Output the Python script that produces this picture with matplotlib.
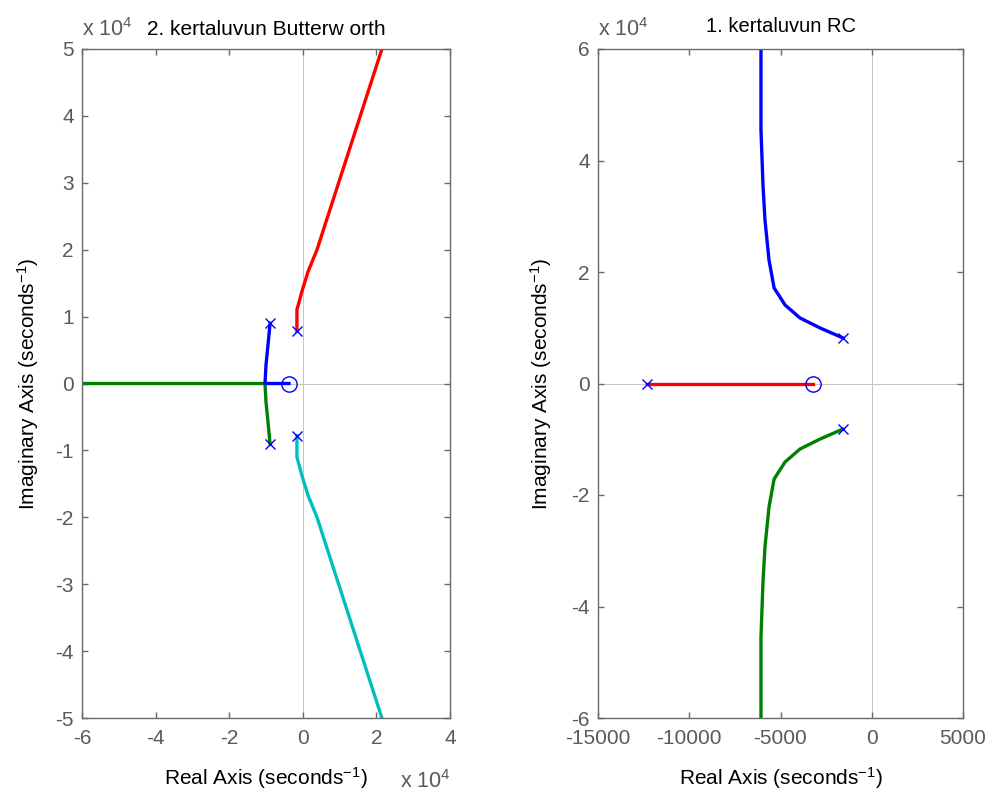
import matplotlib
matplotlib.use("Agg")
import matplotlib.pyplot as plt

plt.rcParams['font.family'] = ['Liberation Sans', 'DejaVu Sans']
plt.rcParams['mathtext.default'] = 'regular'

# ---------------- Left plot: 2nd order Butterworth (units: 1/s) ----------------
bw_poles_re = [-8900, -8900, -1600, -1600]
bw_poles_im = [9000, -9000, 7800, -7800]
bw_zero_re = [-3750]
bw_zero_im = [0]

bw_blue_re = [-8900, -9460, -10000, -10270, -3750]
bw_blue_im = [9000, 5750, 2770, 0, 0]
bw_green_re = [-8900, -9460, -10000, -10270, -60000]
bw_green_im = [-9000, -5750, -2770, 0, 0]
bw_red_re = [-1600, -1600, -220, 1410, 3860, 21500]
bw_red_im = [7800, 11000, 13800, 16700, 20000, 50000]
bw_cyan_re = [-1600, -1600, -220, 1410, 3860, 21500]
bw_cyan_im = [-7800, -11000, -13800, -16700, -20000, -50000]

# ---------------- Right plot: 1st order RC ----------------
rc_poles_re = [-1600, -1600, -12300]
rc_poles_im = [8200, -8200, 0]
rc_zero_re = [-3200]
rc_zero_im = [0]

rc_blue_re = [-1600, -2830, -3930, -4750, -5350, -5630, -5850, -5960, -6070, -6070]
rc_blue_im = [8200, 9960, 11750, 14080, 17130, 22150, 29300, 35600, 45500, 60000]
rc_green_re = rc_blue_re
rc_green_im = [-v for v in rc_blue_im]
rc_red_re = [-12300, -3200]
rc_red_im = [0, 0]

left_xticks = [-60000, -40000, -20000, 0, 20000, 40000]
left_yticks = [-50000, -40000, -30000, -20000, -10000, 0, 10000, 20000, 30000, 40000, 50000]
right_xticks = [-15000, -10000, -5000, 0, 5000]
right_yticks = [-60000, -40000, -20000, 0, 20000, 40000, 60000]

GRAY = '#6a6a6a'
TICKC = '#5a5a5a'
LW = 2.4

fig = plt.figure(figsize=(9.93, 7.96), dpi=100)
axL = fig.add_axes([82/993, 78/796, 368/993, 669/796])
axR = fig.add_axes([598/993, 78/796, 365/993, 669/796])


def style(ax):
    for s in ax.spines.values():
        s.set_color(GRAY)
        s.set_linewidth(1.0)
    ax.tick_params(direction='in', length=4, width=1.0, color=GRAY,
                   labelcolor=TICKC, labelsize=15, top=True, right=True)
    ax.tick_params(axis='x', pad=8)
    ax.tick_params(axis='y', pad=6)
    ax.axhline(0, color='#c4c4c4', lw=0.7, zorder=0)
    ax.axvline(0, color='#c4c4c4', lw=0.7, zorder=0)


LABEL = "Real Axis (seconds$^{-1}$)"
YLABEL = "Imaginary Axis (seconds$^{-1}$)"

# Left
style(axL)
axL.plot(bw_red_re, bw_red_im, color='#ff0000', lw=LW)
axL.plot(bw_cyan_re, bw_cyan_im, color='#00bfbf', lw=LW)
axL.plot(bw_green_re, bw_green_im, color='#008000', lw=LW)
axL.plot(bw_blue_re, bw_blue_im, color='#0000ff', lw=LW)
axL.plot(bw_poles_re, bw_poles_im, 'x', color='#0000ff', ms=7, mew=1.0)
axL.plot(bw_zero_re, bw_zero_im, 'o', mfc='none', mec='#0000ff', ms=11, mew=1.0)
axL.set_xlim(-60000, 40000)
axL.set_ylim(-50000, 50000)
axL.set_xticks(left_xticks)
axL.set_xticklabels([f"{v/1e4:g}" for v in left_xticks])
axL.set_yticks(left_yticks)
axL.set_yticklabels([f"{v/1e4:g}" for v in left_yticks])
axL.set_title("2. kertaluvun Butterw orth", fontsize=15, color='black', pad=10)
axL.set_xlabel(LABEL, fontsize=15, labelpad=12)
axL.set_ylabel(YLABEL, fontsize=15, labelpad=10)

# Right
style(axR)
axR.plot(rc_blue_re, rc_blue_im, color='#0000ff', lw=LW)
axR.plot(rc_green_re, rc_green_im, color='#008000', lw=LW)
axR.plot(rc_red_re, rc_red_im, color='#ff0000', lw=LW)
axR.plot(rc_poles_re, rc_poles_im, 'x', color='#0000ff', ms=7, mew=1.0)
axR.plot(rc_zero_re, rc_zero_im, 'o', mfc='none', mec='#0000ff', ms=11, mew=1.0)
axR.set_xlim(-15000, 5000)
axR.set_ylim(-60000, 60000)
axR.set_xticks(right_xticks)
axR.set_xticklabels([f"{v:g}" for v in right_xticks])
axR.set_yticks(right_yticks)
axR.set_yticklabels([f"{v/1e4:g}" for v in right_yticks])
axR.set_title("1. kertaluvun RC", fontsize=14.5, color='black', pad=12)
axR.set_xlabel(LABEL, fontsize=15, labelpad=12)
axR.set_ylabel(YLABEL, fontsize=15, labelpad=12)

# Exponent labels
fig.text(82/993, 1 - 30/796, r"x 10$^{4}$", color=TICKC, fontsize=15.5, va='center', ha='left')
fig.text(598/993, 1 - 30/796, r"x 10$^{4}$", color=TICKC, fontsize=15.5, va='center', ha='left')
fig.text(400/993, 1 - 782/796, r"x 10$^{4}$", color=TICKC, fontsize=15.5, va='center', ha='left')

fig.savefig("out.png", dpi=100)
